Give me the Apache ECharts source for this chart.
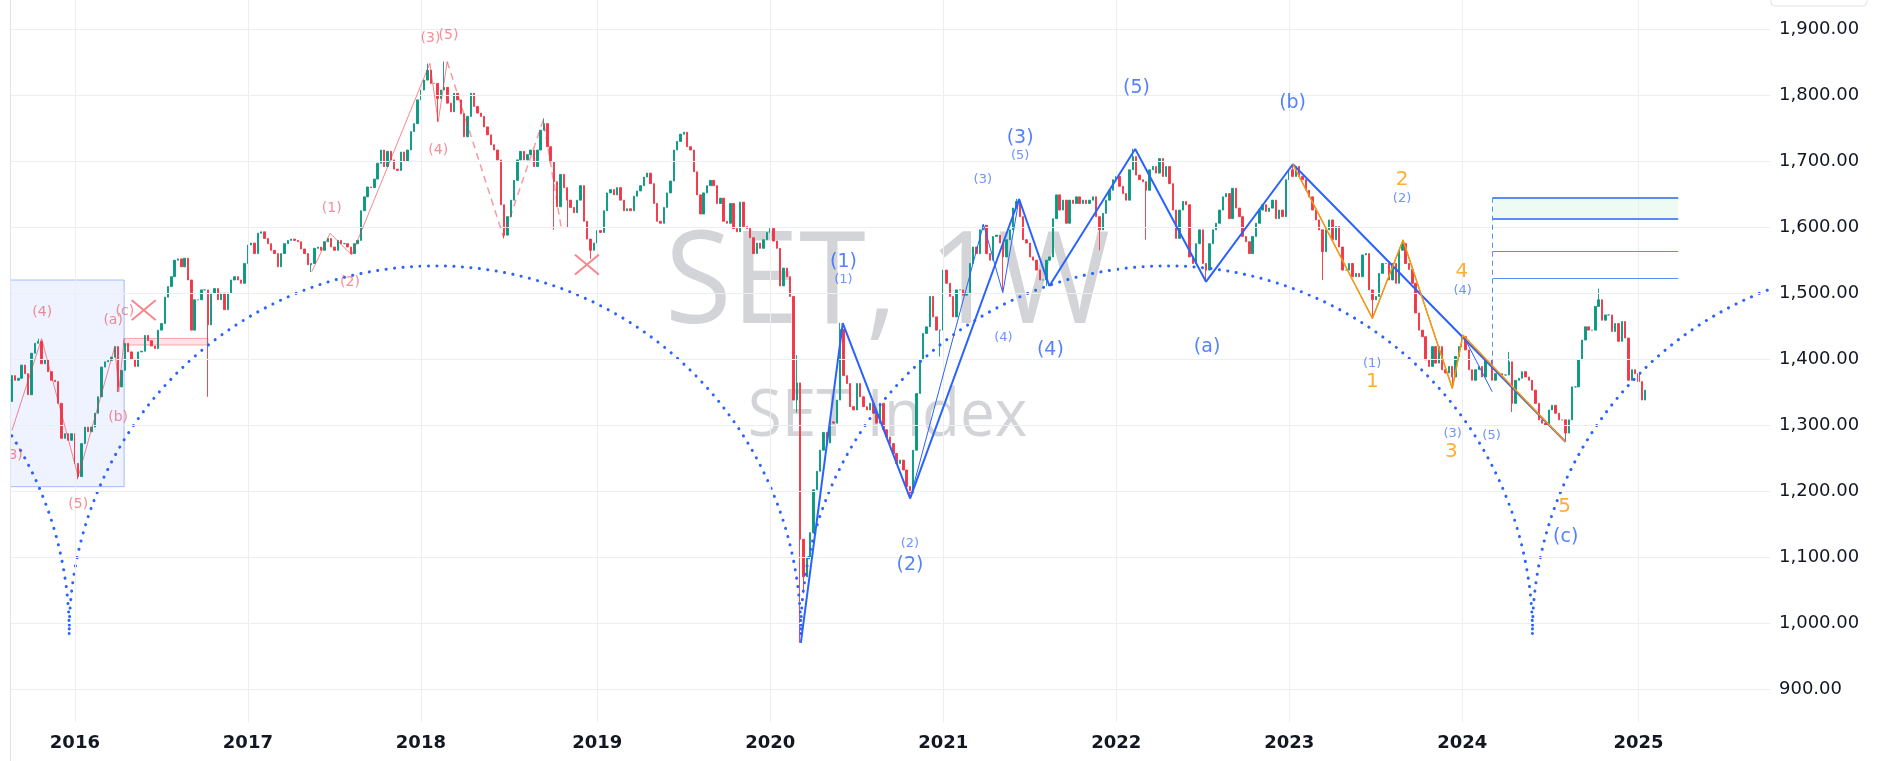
<!DOCTYPE html>
<html>
<head>
<meta charset="utf-8">
<title>SET Index 1W</title>
<script src="https://cdn.jsdelivr.net/npm/echarts@6/dist/echarts.min.js"></script>
<style>
html, body { margin: 0; padding: 0; background: #fff; }
#chart { width: 1880px; height: 761px; }
</style>
</head>
<body>
<div id="chart"></div>
<script>
// weekly bars, first bar is the week of 2015-08-24
const firstWeek = '2015-08-24';
const weekCount = 529; // empty weeks on the right side too
const firstOpen = 1336;

// weekly closes
const closes2015 = [1375,1368,1371,1391,1378,1346,1409,1424,1427,1393,1399,1381,1368,1366,1333,1280,1287,1277,1287];
const closes2016 = [1242,1222,1272,1297,1290,1297,1318,1343,1388,1396,
  1398,1403,1419,1358,1383,1424,1411,1400,1389,1411,
  1412,1436,1428,1420,1416,1444,1454,1494,1510,1525,
  1550,1552,1540,1553,1520,1444,1490,1490,1505,1505,
  1452,1500,1507,1490,1500,1475,1500,1520,1525,1520,
  1515,1545];
const closes2017 = [1573,1576,1560,1591,1593,1583,1575,1565,1560,1540,
  1560,1575,1580,1582,1580,1578,1567,1560,1543,1545,
  1568,1570,1565,1578,1583,1570,1565,1580,1575,1575,
  1570,1560,1575,1580,1625,1646,1661,1660,1673,1697,
  1717,1692,1715,1702,1688,1686,1714,1700,1717,1745,
  1757,1793];
const closes2018 = [1808,1823,1838,1818,1818,1795,1808,1812,1788,1775,
  1803,1793,1772,1737,1768,1803,1783,1773,1768,1752,
  1740,1725,1717,1702,1634,1588,1616,1641,1671,1702,
  1715,1702,1710,1717,1692,1717,1747,1757,1722,1699,
  1669,1631,1680,1660,1641,1630,1622,1641,1663,1609,
  1582,1565,1576];
const closes2019 = [1595,1592,1625,1652,1657,1649,1660,1641,1625,1628,
  1625,1647,1655,1663,1676,1682,1666,1636,1609,1606,
  1630,1652,1670,1717,1730,1741,1744,1722,1717,1684,
  1649,1620,1652,1663,1671,1663,1636,1644,1609,1606,
  1636,1598,1593,1638,1601,1598,1584,1560,1576,1568,
  1581,1592];
const closes2020 = [1598,1579,1568,1511,1538,1525,1495,1338,1364,1127,
  1070,1100,1137,1202,1230,1262,1289,1273,1305,1303,
  1338,1445,1375,1363,1328,1323,1363,1343,1328,1323,
  1333,1318,1303,1333,1293,1282,1272,1257,1242,1247,
  1232,1207,1197,1262,1348,1399,1439,1449,1495,1464,
  1444,1444];
const closes2021 = [1535,1515,1495,1464,1505,1505,1497,1500,1545,1570,
  1560,1596,1603,1560,1550,1586,1588,1576,1555,1581,
  1596,1629,1639,1616,1581,1576,1555,1550,1535,1520,
  1520,1550,1555,1613,1649,1626,1641,1606,1641,1636,
  1646,1636,1641,1636,1641,1646,1616,1596,1621,1641,
  1656,1672];
const closes2022 = [1677,1662,1651,1641,1687,1707,1679,1672,1669,1656,
  1687,1692,1682,1704,1677,1692,1666,1626,1583,1626,
  1639,1634,1555,1545,1575,1596,1545,1535,1575,1596,
  1606,1626,1646,1651,1613,1659,1629,1616,1586,1578,
  1560,1586,1606,1626,1634,1624,1629,1641,1613,1626,
  1616,1672];
const closes2023 = [1687,1677,1692,1677,1672,1656,1646,1626,1611,1596,
  1563,1596,1611,1581,1601,1570,1535,1535,1545,1525,
  1530,1525,1558,1560,1505,1490,1495,1530,1545,1545,
  1520,1545,1515,1565,1575,1545,1536,1515,1470,1444,
  1434,1399,1389,1419,1394,1419,1384,1379,1389,1373,
  1404,1419];
const closes2024 = [1434,1414,1384,1368,1384,1389,1373,1399,1400,1368,
  1378,1378,1376,1376,1396,1333,1368,1371,1381,1373,
  1368,1353,1333,1308,1303,1300,1323,1330,1318,1308,
  1308,1288,1308,1358,1358,1399,1429,1449,1444,1444,
  1480,1490,1459,1467,1467,1442,1454,1427,1457,1432,
  1368,1384,1378];
const closes2025 = [1366,1338,1353];

// long wicks (week index -> price)
const wickHighs = {8:1431, 125:1848, 130:1851, 160:1765, 236:1406, 249:1455, 292:1604, 302:1643, 337:1719, 385:1695, 418:1581, 436:1437, 450:1411, 477:1507};
const wickLows = {20:1218, 32:1350, 59:1343, 90:1532, 128:1760, 148:1583, 163:1596, 167:1600, 174:1552, 236:1319, 237:970, 238:1045, 270:1189, 279:1404, 298:1502, 311:1511, 327:1565, 341:1581, 359:1517, 394:1520, 409:1462, 433:1356, 451:1320, 467:1275};

const priceLevels = [900, 1000, 1100, 1200, 1300, 1400, 1500, 1600, 1700, 1800, 1900];

// ---- drawings (x = week index from firstWeek, y = price) ----
const redWave1 = [[0.1,1292],[9,1431],[20,1221.8],[31,1419],[32.2,1350.6],[33.8,1430]];
const redWave2 = [[90.2,1532.6],[95.7,1590.8],[102.2,1557.9],[125.7,1848.4],[128.2,1760],[130.9,1850.9]];
const redDashed = [[130.9,1850.9],[147.8,1585.6],[159.8,1762.5],[165.3,1595.8]];
const blueMain = [[237.2,970],[249.8,1454.5],[270.05,1189.1],[302.8,1642.8],[311.9,1510.9],[337.7,1718.6],[359,1517.4],[385.1,1695.4],[467,1274.9]];
const blueSub1 = [[270.05,1189.1],[292.1,1604.4],[297.9,1500.7],[302.8,1642.8]];
const blueSub2 = [[385.1,1695.4],[409,1461.9],[418.2,1580.6],[433,1355.9],[436.2,1436.6],[445,1350.7]];
const orangeSub = [[385.1,1695.4],[409,1461.9],[418.2,1580.6],[433,1355.9],[436.2,1436.6],[467,1274.9]];
const crossMarks = [[39.7,1474.2],[172.9,1543.3]];
const cycleCusps = [-202.6, 17.3, 237.2, 457.1, 677.0];
const cycleBase = 984;
const cycleTop = 1541.4;
const targetFrom = 445.1, targetTo = 500.9;
const targetLevels = [1644.7, 1613.5, 1563.9, 1522.6];

const redLabels = [['(3)',0.36,1254],['(4)',9.17,1471],['(5)',20.0,1180],['(a)',30.5,1459],['(c)',34.0,1472],['(b)',32.0,1312],
  ['(1)',96.2,1629],['(2)',101.7,1516],['(3)',125.9,1886],['(5)',131.3,1891],['(4)',128.2,1717]];
const blueBigLabels = [['(1)',250.0,1547.7],['(2)',270.0,1087.9],['(3)',303.1,1734.8],['(4)',312.2,1413.9],
  ['(5)',338.1,1810.6],['(a)',359.3,1418.9],['(b)',385.0,1787.8],['(c)',467.1,1130.9]];
const blueSmallLabels = [['(1)',250.0,1521.0],['(2)',270.0,1119.8],['(5)',303.1,1708.0],['(3)',291.9,1671.6],['(4)',298.1,1433.1],
  ['(2)',417.9,1643.8],['(4)',436.1,1503.8],['(1)',408.9,1393.7],['(3)',433.1,1287.6],['(5)',444.8,1283.5]];
const orangeLabels = [['2',417.9,1671.6],['4',435.9,1532.6],['1',409.0,1365.8],['3',432.7,1259.7],['5',466.8,1176.3]];

// ---- build ----
const closes = [].concat(closes2015, closes2016, closes2017, closes2018, closes2019,
  closes2020, closes2021, closes2022, closes2023, closes2024, closes2025);

const dates = [];
const yearStarts = [];
let d0 = new Date(firstWeek + 'T00:00:00Z');
for (let i = 0; i < weekCount; i++) {
  const d = new Date(d0.getTime() + i * 7 * 86400000);
  dates.push(d.toISOString().slice(0, 10));
  if (i > 0 && dates[i].slice(0, 4) !== dates[i - 1].slice(0, 4)) yearStarts.push(i);
}

const candles = closes.map((c, i) => {
  const o = i === 0 ? firstOpen : closes[i - 1];
  let hi = Math.max(o, c), lo = Math.min(o, c);
  if (wickHighs[i] !== undefined) hi = Math.max(hi, wickHighs[i]);
  if (wickLows[i] !== undefined) lo = Math.min(lo, wickLows[i]);
  return [o, c, lo, hi];
});

function arcPoints(a, b) {
  const c = (a + b) / 2, r = (b - a) / 2, h = cycleTop - cycleBase;
  const pts = [];
  for (let k = 0; k <= 240; k++) {
    const t = Math.PI * k / 240;
    pts.push([c - r * Math.cos(t), cycleBase + h * Math.sin(t)]);
  }
  return pts;
}

function drawLine(points, lineStyle, z) {
  return {type: 'line', xAxisIndex: 1, yAxisIndex: 0, data: points, symbol: 'none',
    silent: true, animation: false, clip: true, z: z || 5, lineStyle: lineStyle};
}

function textSeries(items, color, size) {
  return {type: 'scatter', xAxisIndex: 1, yAxisIndex: 0, symbolSize: 1, silent: true, animation: false, z: 8,
    itemStyle: {color: 'rgba(0,0,0,0)'},
    data: items.map(it => ({name: it[0], value: [it[1], it[2]]})),
    label: {show: true, position: 'inside', formatter: '{b}', color: color, fontSize: size, fontFamily: 'DejaVu Sans'}};
}

const series = [];

// grid lines
series.push({
  type: 'line', xAxisIndex: 1, yAxisIndex: 0, data: [], z: 1, silent: true, animation: false,
  markLine: {
    silent: true, symbol: ['none', 'none'], label: {show: false}, animation: false,
    lineStyle: {color: '#eceef2', width: 1, type: 'solid'},
    data: priceLevels.map(v => ({yAxis: v})).concat(yearStarts.map(i => ({xAxis: i})))
  }
});

// shaded boxes
series.push({
  type: 'line', xAxisIndex: 1, yAxisIndex: 0, data: [], z: 2, silent: true, animation: false,
  markArea: {
    silent: true, animation: false,
    data: [
      [{xAxis: -0.5, yAxis: 1520, itemStyle: {color: 'rgba(41,98,255,0.08)', borderColor: 'rgba(41,98,255,0.4)', borderWidth: 1}}, {xAxis: 33.8, yAxis: 1206.7}],
      [{xAxis: 33.7, yAxis: 1431.5, itemStyle: {color: 'rgba(242,54,69,0.14)', borderColor: 'rgba(242,54,69,0.4)', borderWidth: 1}}, {xAxis: 59.0, yAxis: 1421.4}],
      [{xAxis: targetFrom, yAxis: targetLevels[0], itemStyle: {color: 'rgba(0,200,83,0.07)'}}, {xAxis: targetTo, yAxis: targetLevels[1]}]
    ]
  }
});

series.push({
  type: 'candlestick', data: candles, barWidth: 1.9, z: 3, silent: true, animation: false,
  itemStyle: {color: '#089981', color0: '#f23645', borderColor: '#089981', borderColor0: '#f23645', borderWidth: 0.9}
});

// cycle arcs
for (let k = 0; k < cycleCusps.length - 1; k++) {
  series.push(drawLine(arcPoints(cycleCusps[k], cycleCusps[k + 1]),
    {color: '#2962ff', width: 3, type: [0.1, 8.4], cap: 'round'}, 4));
}

// wave lines
series.push(drawLine(redWave1, {color: 'rgba(242,54,69,0.6)', width: 1}));
series.push(drawLine(redWave2, {color: 'rgba(242,54,69,0.6)', width: 1}));
series.push(drawLine(redDashed, {color: 'rgba(242,54,69,0.5)', width: 1.5, type: [7, 5]}));
series.push(drawLine(blueMain, {color: '#2962ff', width: 2}));
series.push(drawLine(blueSub1, {color: '#2962ff', width: 1}));
series.push(drawLine(blueSub2, {color: '#2962ff', width: 1}));
series.push(drawLine(orangeSub, {color: '#ff9800', width: 1.5}));

// target zone lines
series.push({
  type: 'line', xAxisIndex: 1, yAxisIndex: 0, data: [], z: 5, silent: true, animation: false,
  markLine: {
    silent: true, symbol: ['none', 'none'], label: {show: false}, animation: false,
    data: targetLevels.map((v, i) => [
      {coord: [targetFrom, v], lineStyle: {color: '#5b8cf6', width: i < 2 ? 2 : 1, type: 'solid'}},
      {coord: [targetTo, v]}
    ]).concat([[
      {coord: [targetFrom, targetLevels[0]], lineStyle: {color: '#5b8cf6', width: 1, type: [5, 4]}},
      {coord: [targetFrom, 1388]}
    ]])
  }
});

// red crosses
series.push({
  type: 'scatter', xAxisIndex: 1, yAxisIndex: 0, data: crossMarks, silent: true, animation: false, z: 6,
  symbol: 'path://M0,0L24,20M24,0L0,20', symbolSize: [24, 20],
  itemStyle: {color: 'none', borderColor: 'rgba(242,54,69,0.75)', borderWidth: 2}
});

series.push(textSeries(redLabels, 'rgba(242,54,69,0.72)', 14));
series.push(textSeries(blueBigLabels, '#2962ff', 19));
series.push(textSeries(blueSmallLabels, 'rgba(41,98,255,0.85)', 13));
series.push(textSeries(orangeLabels, '#ff9800', 20));

const chart = echarts.init(document.getElementById('chart'));
chart.setOption({
  animation: false,
  backgroundColor: '#ffffff',
  grid: {left: 10, right: 110, top: 0, bottom: 39, containLabel: false, outerBoundsMode: 'none'},
  xAxis: [
    {
      type: 'category', data: dates, boundaryGap: true,
      axisLine: {show: false}, axisTick: {show: false}, splitLine: {show: false},
      axisLabel: {
        interval: (index) => yearStarts.indexOf(index) >= 0,
        formatter: (v) => v.slice(0, 4),
        color: '#131722', fontSize: 18, fontWeight: 'bold', fontFamily: 'DejaVu Sans', margin: 12
      }
    },
    {type: 'value', min: -0.5, max: weekCount - 0.5, show: false}
  ],
  yAxis: {
    type: 'value', position: 'right', min: 850, max: 1944.4, splitNumber: 11,
    axisLine: {show: false}, axisTick: {show: false}, splitLine: {show: false},
    axisLabel: {
      showMinLabel: false, showMaxLabel: false, margin: 9,
      color: '#131722', fontSize: 18, fontFamily: 'DejaVu Sans',
      formatter: (v) => v.toLocaleString('en-US', {minimumFractionDigits: 2, maximumFractionDigits: 2})
    }
  },
  graphic: [
    {type: 'text', x: 887.5, y: 286, scaleX: 0.94, z: 0, silent: true,
      style: {text: 'SET, 1W', fontSize: 129, fontFamily: 'Open Sans', fill: 'rgba(120,123,134,0.33)', align: 'center', verticalAlign: 'middle'}},
    {type: 'text', x: 887.5, y: 417, scaleX: 0.94, z: 0, silent: true,
      style: {text: 'SET Index', fontSize: 66, fontFamily: 'Open Sans', fill: 'rgba(120,123,134,0.33)', align: 'center', verticalAlign: 'middle'}},
    {type: 'rect', z: 100, silent: true, shape: {x: 0, y: 0, width: 10, height: 761}, style: {fill: '#ffffff'}},
    {type: 'line', z: 100, silent: true, shape: {x1: 10.5, y1: 0, x2: 10.5, y2: 761}, style: {stroke: '#e0e3eb', lineWidth: 1}},
    {type: 'rect', z: 100, silent: true, shape: {x: 1771, y: -12, width: 96, height: 18, r: 4}, style: {fill: '#ffffff', stroke: '#e0e3eb'}}
  ],
  series: series
});
</script>
</body>
</html>
